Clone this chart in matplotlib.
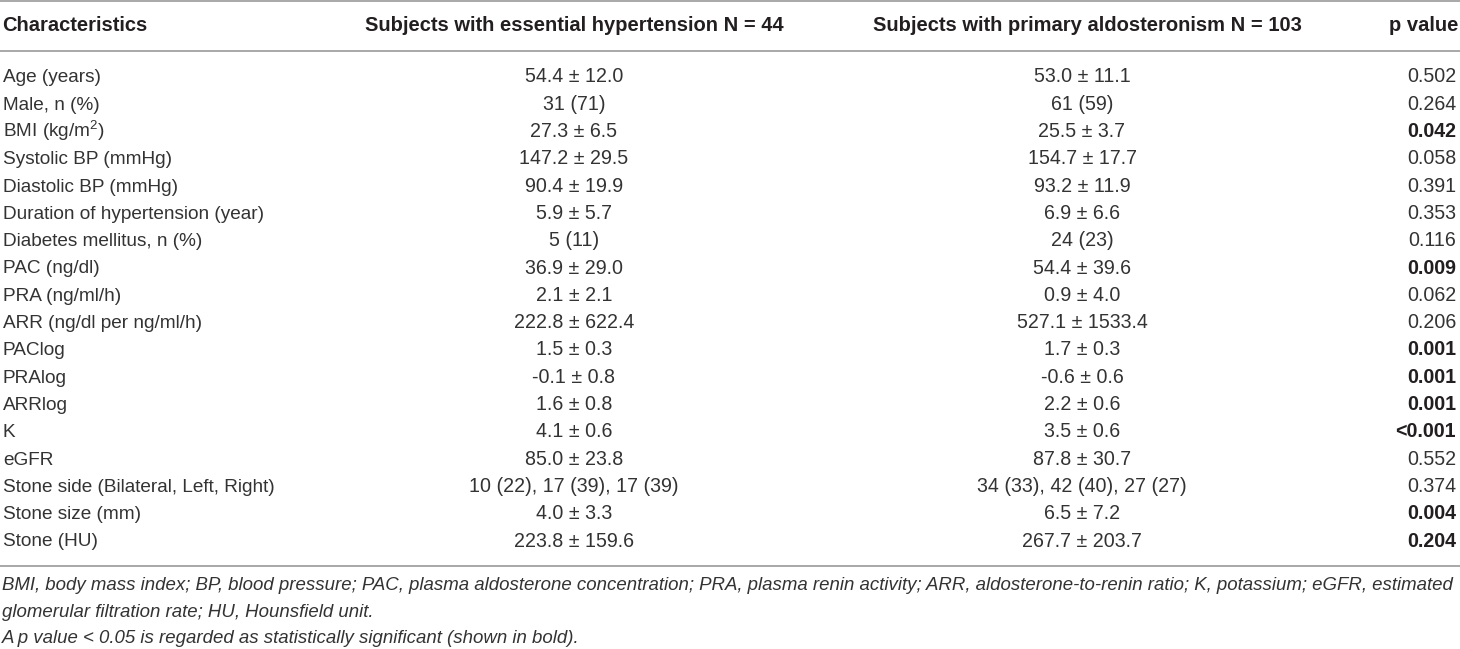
import matplotlib
matplotlib.use("Agg")
import matplotlib.pyplot as plt
from matplotlib.lines import Line2D

# table contents
headers = ["Characteristics",
           "Subjects with essential hypertension N = 44",
           "Subjects with primary aldosteronism N = 103",
           "p value"]

characteristics = [
    "Age (years)", "Male, n (%)", "BMI (kg/m$^2$)", "Systolic BP (mmHg)",
    "Diastolic BP (mmHg)", "Duration of hypertension (year)",
    "Diabetes mellitus, n (%)", "PAC (ng/dl)", "PRA (ng/ml/h)",
    "ARR (ng/dl per ng/ml/h)", "PAClog", "PRAlog", "ARRlog", "K", "eGFR",
    "Stone side (Bilateral, Left, Right)", "Stone size (mm)", "Stone (HU)",
]
essential = [
    "54.4 ± 12.0", "31 (71)", "27.3 ± 6.5", "147.2 ± 29.5", "90.4 ± 19.9",
    "5.9 ± 5.7", "5 (11)", "36.9 ± 29.0", "2.1 ± 2.1", "222.8 ± 622.4",
    "1.5 ± 0.3", "-0.1 ± 0.8", "1.6 ± 0.8", "4.1 ± 0.6", "85.0 ± 23.8",
    "10 (22), 17 (39), 17 (39)", "4.0 ± 3.3", "223.8 ± 159.6",
]
primary = [
    "53.0 ± 11.1", "61 (59)", "25.5 ± 3.7", "154.7 ± 17.7", "93.2 ± 11.9",
    "6.9 ± 6.6", "24 (23)", "54.4 ± 39.6", "0.9 ± 4.0", "527.1 ± 1533.4",
    "1.7 ± 0.3", "-0.6 ± 0.6", "2.2 ± 0.6", "3.5 ± 0.6", "87.8 ± 30.7",
    "34 (33), 42 (40), 27 (27)", "6.5 ± 7.2", "267.7 ± 203.7",
]
p_values = [
    "0.502", "0.264", "0.042", "0.058", "0.391", "0.353", "0.116", "0.009",
    "0.062", "0.206", "0.001", "0.001", "0.001", "<0.001", "0.552", "0.374",
    "0.004", "0.204",
]
p_bold = [False, False, True, False, False, False, False, True,
          False, False, True, True, True, True, False, False, True, True]

footnotes = [
    "BMI, body mass index; BP, blood pressure; PAC, plasma aldosterone concentration; "
    "PRA, plasma renin activity; ARR, aldosterone-to-renin ratio; K, potassium; eGFR, estimated",
    "glomerular filtration rate; HU, Hounsfield unit.",
    "A p value < 0.05 is regarded as statistically significant (shown in bold).",
]

W, H = 1460, 649
font = ["Liberation Sans", "DejaVu Sans"]
plt.rcParams["mathtext.fontset"] = "custom"
plt.rcParams["mathtext.rm"] = "Liberation Sans"
plt.rcParams["mathtext.it"] = "Liberation Sans:italic"

fig = plt.figure(figsize=(W / 100, H / 100), dpi=100)
fig.patch.set_facecolor("white")

head_color = "#231f20"
body_color = "#333333"
line_color = "#9a9a9a"
head_size = 14.5
body_size = 14.1
label_size = 13.7


def put(x, y, s, size, ha="left", color=body_color, **kw):
    # y is roughly the middle of the line; draw on a baseline just below it
    base = y + 0.28 * size * 100 / 72
    return fig.text(x / W, 1 - base / H, s, ha=ha, va="baseline",
                    color=color, family=font, fontsize=size, **kw)


def hline(y, lw=1.2):
    fy = 1 - y / H
    fig.add_artist(Line2D([0, 1], [fy, fy], color=line_color, lw=lw))


hline(1)
hline(50.5)
hline(566)

head_x = [2, 574, 1087, 1458]
head_ha = ["left", "center", "center", "right"]
for x, ha, h in zip(head_x, head_ha, headers):
    put(x, 25.5, h, head_size, ha=ha, color=head_color, fontweight="bold")

row0, step = 77, 27.3
for i in range(len(characteristics)):
    y = row0 + i * step
    put(3, y, characteristics[i], label_size)
    put(574, y, essential[i], body_size, ha="center")
    put(1082, y, primary[i], body_size, ha="center")
    if p_bold[i]:
        put(1456, y, p_values[i], body_size, ha="right", color=head_color,
            fontweight="bold")
    else:
        put(1456, y, p_values[i], body_size, ha="right")

# footnotes: the first line runs to the right edge, so fit its size to it
renderer = fig.canvas.get_renderer()
note_size = 13.6
probe = put(2, 586, footnotes[0], note_size, style="italic")
width = probe.get_window_extent(renderer).width
if width > 1454:
    note_size *= 1454 / width
probe.remove()

for j, note in enumerate(footnotes):
    put(2, 585 + j * 26.4, note, note_size, style="italic")

fig.savefig("out.png", dpi=100)
